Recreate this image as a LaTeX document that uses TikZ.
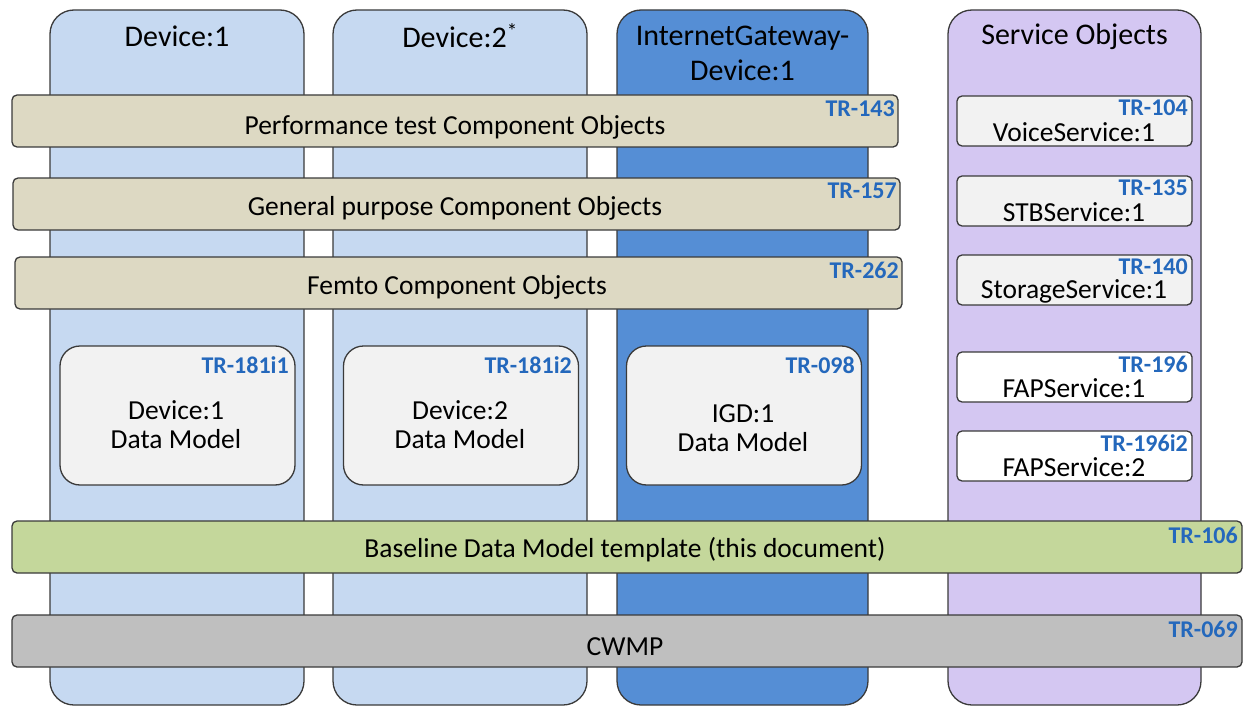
\documentclass[tikz,border=0pt]{standalone}
\usepackage{fontspec}
\setmainfont{Carlito}
\usepackage{tikz}
\usetikzlibrary{positioning}
\definecolor{devBlue}{HTML}{C6D9F1}
\definecolor{igdBlue}{HTML}{558ED5}
\definecolor{svcLilac}{HTML}{D4C7F2}
\definecolor{compBeige}{HTML}{DDD9C3}
\definecolor{baseGreen}{HTML}{C4D79B}
\definecolor{cwmpGrey}{HTML}{BFBFBF}
\definecolor{modelGrey}{HTML}{F2F2F2}
\definecolor{trBlue}{HTML}{2468BC}
\definecolor{edgeGrey}{HTML}{3A3A3A}
\tikzset{
  column/.style={draw=edgeGrey, line width=1.3pt, rounded corners=24pt, minimum width=254pt, minimum height=695pt},
  bar/.style={draw=edgeGrey, line width=1.3pt, rounded corners=5pt, minimum height=52pt},
  model/.style={draw=edgeGrey, fill=modelGrey, line width=1.3pt, rounded corners=20pt, minimum width=235pt, minimum height=139pt},
  service/.style={draw=edgeGrey, line width=1.3pt, rounded corners=5pt, minimum width=235pt, minimum height=50pt},
  title/.style={font=\fontsize{30}{35}\selectfont, align=center, inner sep=0pt},
  body/.style={font=\fontsize{27.5}{29}\selectfont, align=center, inner sep=0pt},
  tr/.style={font=\fontsize{24}{26}\selectfont\bfseries, text=trBlue, inner sep=0pt, anchor=east},
}
\def\scale{1}

\begin{document}
\begin{tikzpicture}[x=\scale pt, y=-\scale pt, line cap = round]
  \useasboundingbox (0,0) rectangle (1245,706);

  % device columns
  \node[column, fill=devBlue] (dev1) at (177,357.5) {};
  \node[column, fill=devBlue] (dev2) at (460,357.5) {};
  \node[column, fill=igdBlue, minimum width=251pt] (igd) at (742.5,357.5) {};
  \node[column, fill=svcLilac, minimum width=253pt] (svc) at (1074.5,357.5) {};
  \node[title] (dev1title) at (177,36) {Device:1};
  \node[title] (dev2title) at (460,36) {Device:2\textsuperscript{*}};
  \node[title] (igdtitle) at (742.5,53) {InternetGateway-\\Device:1};
  \node[title] (svctitle) at (1074.5,37) {Service Objects};

  % component bars
  \node[bar, fill=compBeige, minimum width=886pt] (perf) at (455,121) {};
  \node[body] (perftext) at (455,127) {Performance test Component Objects};
  \node[tr] (perftr) at (895,109) {TR-143};
  \node[bar, fill=compBeige, minimum width=887pt] (gen) at (456.5,204) {};
  \node[body] (gentext) at (455,208) {General purpose Component Objects};
  \node[tr] (gentr) at (897,191) {TR-157};
  \node[bar, fill=compBeige, minimum width=887pt] (femto) at (458.5,283) {};
  \node[body] (femtotext) at (457,287) {Femto Component Objects};
  \node[tr] (femtotr) at (899,270) {TR-262};

  % data models
  \node[model] (dev1dm) at (177.5,415.5) {};
  \node[body] (dev1dmtext) at (176,425) {Device:1\\Data Model};
  \node[tr] (dev1dmtr) at (289,365) {TR-181i1};
  \node[model] (dev2dm) at (461,415.5) {};
  \node[body] (dev2dmtext) at (460,425) {Device:2\\Data Model};
  \node[tr] (dev2dmtr) at (572,365) {TR-181i2};
  \node[model] (igddm) at (744,415.5) {};
  \node[body] (igddmtext) at (743,428) {IGD:1\\Data Model};
  \node[tr] (igddmtr) at (855,365) {TR-098};

  % service objects
  \foreach \i/\y/\name/\trnum/\fillc in {1/96/VoiceService:1/TR-104/modelGrey, 2/176/STBService:1/TR-135/modelGrey,
      3/255/StorageService:1/TR-140/modelGrey, 4/352/FAPService:1/TR-196/white, 5/431/FAPService:2/TR-196i2/white}{
    \node[service, fill=\fillc] (svc\i) at (1074.5,\y+25) {};
    \node[body] (svc\i text) at (1074,\y+36) {\name};
    \node[tr] (svc\i tr) at (1188,\y+12) {\trnum};
  }

  % baseline and cwmp
  \node[bar, fill=baseGreen, minimum width=1230pt] (base) at (627,547) {};
  \node[body] (basetext) at (625,550) {Baseline Data Model template (this document)};
  \node[tr] (basetr) at (1238,535) {TR-106};
  \node[bar, fill=cwmpGrey, minimum width=1230pt] (cwmp) at (627,641) {};
  \node[body] (cwmptext) at (625,647) {CWMP};
  \node[tr] (cwmptr) at (1238,629) {TR-069};
\end{tikzpicture}
\end{document}
